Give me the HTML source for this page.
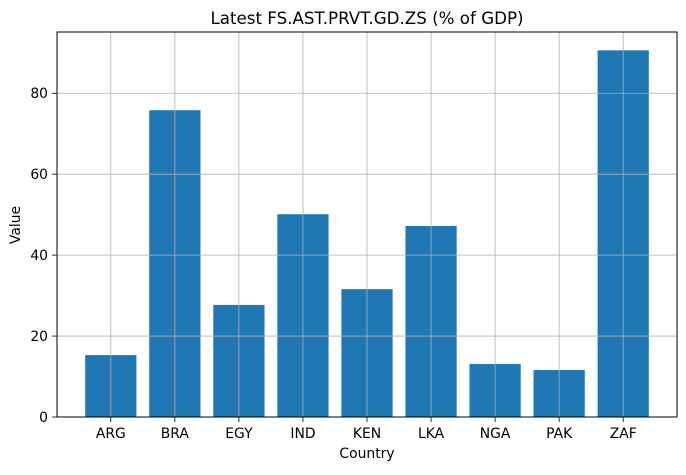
<!DOCTYPE html>
<html><head><meta charset="utf-8"><style>
body{margin:0;background:#fff;font-family:"Liberation Sans","DejaVu Sans",sans-serif}
svg text{font-family:"DejaVu Sans","Liberation Sans",sans-serif;fill:#000}
</style></head><body>
<svg id="chart" width="686" height="470" xmlns="http://www.w3.org/2000/svg">
<text x="367" y="24" font-size="16.7" text-anchor="middle">Latest FS.AST.PRVT.GD.ZS (% of GDP)</text>
<text x="367" y="458" font-size="13.9" text-anchor="middle">Country</text>
<text transform="translate(20,225) rotate(-90)" font-size="13.9" text-anchor="middle">Value</text>
<g id="grid"></g><g id="bars"></g><g id="axes"></g>
</svg>
<script>
const categories=["ARG","BRA","EGY","IND","KEN","LKA","NGA","PAK","ZAF"];
const values=[15.3,75.8,27.7,50.1,31.6,47.2,13.1,11.6,90.6];
const yTicks=[0,20,40,60,80];
const L=57,R=677,T=32,B=417;
const yMax=Math.max(...values)*1.05;
const n=categories.length, xmin=-0.84, xmax=n-1+0.84;
const x=i=>L+(i-xmin)/(xmax-xmin)*(R-L);
const y=v=>B-v/yMax*(B-T);
const ns="http://www.w3.org/2000/svg";
function mk(t,a,p){const e=document.createElementNS(ns,t);for(const k in a)e.setAttribute(k,a[k]);p.appendChild(e);return e;}
const grid=document.getElementById('grid'),bars=document.getElementById('bars'),axes=document.getElementById('axes');
const bw=(x(1)-x(0))*0.8;
categories.forEach((c,i)=>{
 const b=mk('rect',{x:x(i)-bw/2,y:y(values[i]),width:bw,height:B-y(values[i]),fill:'#1f77b4'},bars);
 
 
 const g=mk('line',{x1:x(i),x2:x(i),y1:T,y2:B,stroke:'#b0b0b0','stroke-width':0.8},axes);
 
 
 mk('line',{x1:x(i),x2:x(i),y1:B,y2:B+5,stroke:'#000','stroke-width':0.8},axes);
 const t=mk('text',{x:x(i),y:B+21,'font-size':13.9,'text-anchor':'middle'},axes);t.textContent=c;
 
 
});
yTicks.forEach(v=>{
 const g=mk('line',{x1:L,x2:R,y1:y(v),y2:y(v),stroke:'#b0b0b0','stroke-width':0.8},axes);
 
 
 mk('line',{x1:L-5,x2:L,y1:y(v),y2:y(v),stroke:'#000','stroke-width':0.8},axes);
 const t=mk('text',{x:L-9,y:y(v)+5,'font-size':13.9,'text-anchor':'end'},axes);t.textContent=v;
 
 
});
const f=mk('rect',{x:L,y:T,width:R-L,height:B-T,fill:'none',stroke:'#000','stroke-width':1},axes);


</script>
</body></html>
